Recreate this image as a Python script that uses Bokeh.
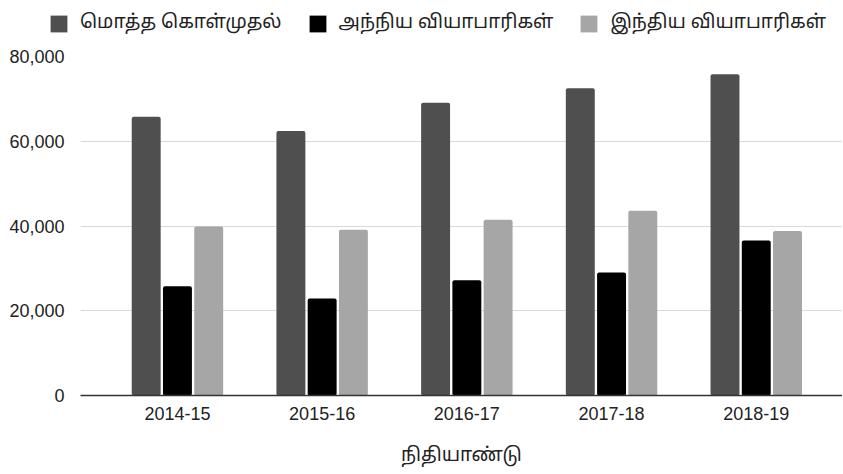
from bokeh.plotting import figure
from bokeh.layouts import column
from bokeh.models import Range1d, FixedTicker, NumeralTickFormatter, Legend, LegendItem, ColumnDataSource
from bokeh.embed import file_html
from bokeh.resources import INLINE

years = ["2014-15", "2015-16", "2016-17", "2017-18", "2018-19"]
total = [65800, 62400, 69100, 72500, 75800]
foreign = [25800, 22900, 27200, 29000, 36600]
indian = [39900, 39100, 41500, 43600, 38800]

series_names = ["மொத்த கொள்முதல்", "அந்நிய வியாபாரிகள்", "இந்திய வியாபாரிகள்"]
series_vals = [total, foreign, indian]
series_colors = ["#4f4f4f", "#000000", "#a6a6a6"]
offsets = [-0.216, 0.0, 0.216]

FONT = "Liberation Sans, Arial, sans-serif"
TFONT = "Noto Sans Tamil, Lohit Tamil, Liberation Sans, sans-serif"

idx = list(range(len(years)))

# ---- legend strip (own figure so the legend is not clipped by the chart frame) ----
lf = figure(width=842, height=40, output_backend="svg", toolbar_location=None,
            x_axis_type=None, y_axis_type=None, x_range=Range1d(-1, 5), y_range=Range1d(0, 1),
            min_border=0, min_border_left=0, min_border_right=0, min_border_top=0, min_border_bottom=0)
lf.frame_align = False
lf.outline_line_color = None
lf.xgrid.visible = False
lf.ygrid.visible = False
leg_renderers = []
for vals, col, off in zip(series_vals, series_colors, offsets):
    r = lf.vbar(x=[i + off for i in idx], top=vals, width=0.2, fill_color=col, line_color=None)
    r.visible = False
    leg_renderers.append(r)
legend = Legend(items=[LegendItem(label=n, renderers=[r]) for n, r in zip(series_names, leg_renderers)],
                orientation="horizontal", location=(48, 5),
                glyph_width=21, glyph_height=21, label_standoff=11, spacing=25,
                padding=0, margin=0, border_line_color=None, background_fill_alpha=0,
                inactive_fill_alpha=0,
                label_text_font=TFONT, label_text_font_size="19px", label_text_color="#222222",
                label_height=17)
lf.add_layout(legend, "center")

# ---- main chart ----
p = figure(width=842, height=432, output_backend="svg", toolbar_location=None,
           x_range=Range1d(-0.670, 4.596), y_range=Range1d(0, 80000),
           min_border_left=80, min_border_right=0, min_border_top=16, min_border_bottom=77)
p.outline_line_color = None

for name, vals, col, off in zip(series_names, series_vals, series_colors, offsets):
    src = ColumnDataSource(dict(x=[i + off for i in idx], top=vals))
    p.vbar(x="x", top="top", width=0.2, bottom=0, source=src, fill_color=col,
           line_color=None, border_radius=2)

p.xaxis.ticker = FixedTicker(ticks=idx)
p.xaxis.major_label_overrides = {i: y for i, y in zip(idx, years)}
p.xaxis.major_tick_line_color = None
p.xaxis.minor_tick_line_color = None
p.xaxis.axis_line_color = "#333333"
p.xaxis.axis_line_width = 1.5
p.xaxis.major_label_text_font = FONT
p.xaxis.major_label_text_font_size = "18px"
p.xaxis.major_label_text_color = "#222222"
p.xaxis.major_label_standoff = 5
p.xaxis.axis_label = "நிதியாண்டு"
p.xaxis.axis_label_text_font = TFONT
p.xaxis.axis_label_text_font_size = "19px"
p.xaxis.axis_label_text_font_style = "normal"
p.xaxis.axis_label_text_color = "#222222"
p.xaxis.axis_label_standoff = 21
p.xgrid.grid_line_color = None

p.yaxis.ticker = FixedTicker(ticks=[0, 20000, 40000, 60000, 80000])
p.yaxis.formatter = NumeralTickFormatter(format="0,0")
p.yaxis.axis_line_color = None
p.yaxis.major_tick_line_color = None
p.yaxis.minor_tick_line_color = None
p.yaxis.major_label_text_font = FONT
p.yaxis.major_label_text_font_size = "18px"
p.yaxis.major_label_text_color = "#222222"
p.yaxis.major_label_standoff = 10
p.ygrid.grid_line_color = "#d9d9d9"
p.ygrid.grid_line_width = 1

layout = column(lf, p, spacing=0)
open("out.html", "w").write(file_html(layout, INLINE))
